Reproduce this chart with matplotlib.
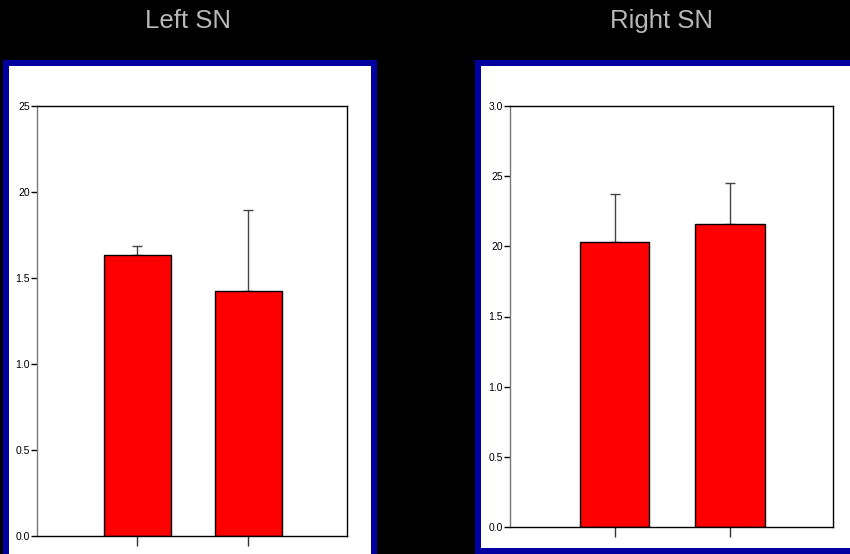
import matplotlib.pyplot as plt
from matplotlib.patches import Rectangle

plt.rcParams['font.family'] = ['Liberation Sans', 'DejaVu Sans']

# mean and upper error for the two groups in each substantia nigra side
left_means = [1.634, 1.424]
left_err = [0.052, 0.471]
right_means = [2.031, 2.160]
right_err = [0.342, 0.292]

left_ticks = [0.0, 0.5, 1.0, 1.5, 2.0, 2.5]
left_ticklabels = ['0.0', '0.5', '1.0', '1.5', '20', '25']
right_ticks = [0.0, 0.5, 1.0, 1.5, 2.0, 2.5, 3.0]
right_ticklabels = ['0.0', '0.5', '1.0', '1.5', '20', '25', '3.0']

W, H = 850, 554
blue = '#0000a0'

fig = plt.figure(figsize=(W / 100, H / 100), dpi=100, facecolor='black')


def px_box(x0, y0, x1, y1):
    # pixel coords (top-left origin) -> figure fraction [l, b, w, h]
    return [x0 / W, 1 - y1 / H, (x1 - x0) / W, (y1 - y0) / H]


# white panels with blue frames
for x0, y0, x1, y1 in [(3, 60, 377, 560), (475, 60, 856, 554)]:
    l, b, w, h = px_box(x0, y0, x1, y1)
    fig.patches.append(Rectangle((l, b), w, h, transform=fig.transFigure,
                                 facecolor=blue, edgecolor='none', zorder=-2))
for x0, y0, x1, y1 in [(9, 66, 371, 560), (481, 66, 856, 548)]:
    l, b, w, h = px_box(x0, y0, x1, y1)
    fig.patches.append(Rectangle((l, b), w, h, transform=fig.transFigure,
                                 facecolor='white', edgecolor='none', zorder=-1))

fig.text(188 / W, 1 - 21 / H, 'Left SN', color='#b8b8b8', fontsize=18.5,
         ha='center', va='center')
fig.text(661 / W, 1 - 21 / H, 'Right SN', color='#b8b8b8', fontsize=18.5,
         ha='center', va='center')


def draw(box, means, err, ymax, ticks, labels):
    ax = fig.add_axes(px_box(*box), zorder=1)
    ax.set_facecolor('white')
    x = [1, 2]
    ax.bar(x, means, width=0.6, color='red', edgecolor='black', linewidth=1, zorder=2)
    ax.errorbar(x, means, yerr=[[0, 0], err], fmt='none', ecolor='#444444',
                elinewidth=1, capsize=3.5, capthick=1, zorder=1)
    ax.set_xlim(0.095, 2.89)
    ax.set_ylim(0, ymax)
    ax.set_xticks(x)
    ax.set_xticklabels(['', ''])
    ax.set_yticks(ticks)
    ax.set_yticklabels(labels, fontsize=7.5)
    ax.tick_params(axis='y', length=4, width=1, pad=1)
    ax.tick_params(axis='x', length=7, width=1, color='#333333')
    for s in ax.spines.values():
        s.set_linewidth(1)
    ax.spines['left'].set_color('#777777')
    return ax


draw((37, 106, 347, 536), left_means, left_err, 2.5, left_ticks, left_ticklabels)
draw((510, 106, 833, 527), right_means, right_err, 3.0, right_ticks, right_ticklabels)

fig.savefig('out.png', dpi=100, facecolor='black')
